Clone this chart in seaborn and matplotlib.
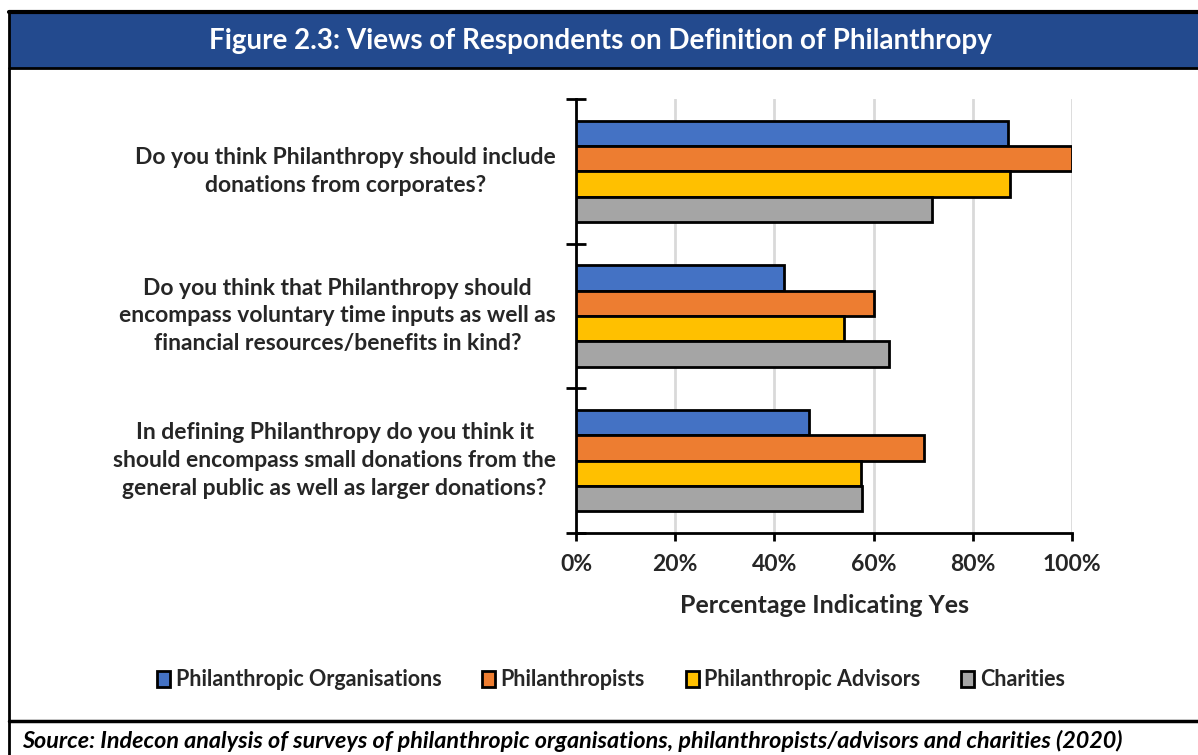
import matplotlib
matplotlib.use("Agg")
import matplotlib.pyplot as plt
import seaborn as sns
import pandas as pd
from matplotlib.patches import Rectangle
from matplotlib.lines import Line2D

questions = [
    "Do you think Philanthropy should include\ndonations from corporates?",
    "Do you think that Philanthropy should\nencompass voluntary time inputs as well as\nfinancial resources/benefits in kind?",
    "In defining Philanthropy do you think it\nshould encompass small donations from the\ngeneral public as well as larger donations?",
]
groups = ["Philanthropic Organisations", "Philanthropists", "Philanthropic Advisors", "Charities"]
org_vals = [0.870, 0.419, 0.469]
phil_vals = [1.000, 0.600, 0.702]
adv_vals = [0.875, 0.541, 0.575]
char_vals = [0.717, 0.632, 0.576]
xticks = [0, 0.2, 0.4, 0.6, 0.8, 1.0]
xtick_labels = ["0%", "20%", "40%", "60%", "80%", "100%"]
colors = ["#4472C4", "#ED7D31", "#FFC000", "#A5A5A5"]

rows = []
for g, vals in zip(groups, [org_vals, phil_vals, adv_vals, char_vals]):
    for q, v in zip(questions, vals):
        rows.append({"Question": q, "Group": g, "Value": v})
df = pd.DataFrame(rows)

sns.set_theme(style="white")
plt.rcParams["font.family"] = ["Lato", "DejaVu Sans"]

W, H = 1198, 755
fig = plt.figure(figsize=(W / 100, H / 100), dpi=100)

def fx(x):
    return x / W

def fy(y):
    return 1 - y / H

# Frame and header band
fig.patches.append(Rectangle((fx(9), fy(68)), fx(W) - fx(9), fy(12) - fy(68),
                             transform=fig.transFigure, facecolor="#234A8E",
                             edgecolor="none", zorder=0))
fig.lines.append(Line2D([fx(9), fx(W)], [fy(12), fy(12)], transform=fig.transFigure, color="black", lw=3))
fig.lines.append(Line2D([fx(9), fx(W)], [fy(68), fy(68)], transform=fig.transFigure, color="black", lw=2))
fig.lines.append(Line2D([fx(9), fx(9)], [fy(11), fy(H)], transform=fig.transFigure, color="black", lw=2))
fig.lines.append(Line2D([fx(9), fx(W)], [fy(721), fy(721)], transform=fig.transFigure, color="black", lw=2.5))

fig.text(fx(600), fy(41), "Figure 2.3: Views of Respondents on Definition of Philanthropy",
         ha="center", va="center", color="white", fontsize=20, fontweight="bold")
fig.text(fx(22), fy(741), "Source: Indecon analysis of surveys of philanthropic organisations, philanthropists/advisors and charities (2020)",
         ha="left", va="center", color="black", fontsize=16.8, fontweight="bold", fontstyle="italic")

ax = fig.add_axes([fx(576), fy(533), fx(1072) - fx(576), fy(99) - fy(533)])
sns.barplot(data=df, y="Question", x="Value", hue="Group", order=questions, hue_order=groups,
            palette=colors, orient="h", width=0.7, edgecolor="black", linewidth=2,
            saturation=1, ax=ax, legend=True, zorder=3)

ax.set_xlim(0, 1)
ax.set_ylim(2.5, -0.5)
ax.set_xticks(xticks)
ax.set_xticklabels(xtick_labels, fontsize=16.5, fontweight="bold")
ax.grid(axis="x", color="#D9D9D9", lw=2, zorder=0)
ax.set_axisbelow(True)
for s in ["top", "right"]:
    ax.spines[s].set_visible(False)
ax.spines["left"].set_linewidth(2)
ax.spines["bottom"].set_linewidth(2)
ax.spines["left"].set_color("black")
ax.spines["bottom"].set_color("black")

# category boundary ticks on y
ax.set_yticks([-0.5, 0.5, 1.5, 2.5])
ax.set_yticklabels([])
ax.tick_params(axis="y", which="major", direction="inout", length=14, width=2, color="black", left=True)
ax.tick_params(axis="x", which="major", direction="out", length=6, width=2, color="black", bottom=True, pad=9)
for i, q in enumerate(questions):
    ax.text(-0.04, i, q, transform=ax.get_yaxis_transform(), ha="right", va="center",
            multialignment="center", fontsize=16.5, fontweight="bold", linespacing=1.4)
ax.set_ylabel("")
ax.set_xlabel("Percentage Indicating Yes", fontsize=18, fontweight="bold", labelpad=14)

handles, labels = ax.get_legend_handles_labels()
ax.get_legend().remove()
leg = fig.legend(handles, labels, loc="center", bbox_to_anchor=(fx(611), fy(680)), ncol=4,
                 frameon=False, handlelength=0.6, handleheight=0.75,
                 handletextpad=0.25, columnspacing=1.9, prop={"weight": "bold", "size": 15.5})
for h in leg.legend_handles:
    h.set_edgecolor("black")
    h.set_linewidth(2)

fig.savefig("out.png", dpi=100)
